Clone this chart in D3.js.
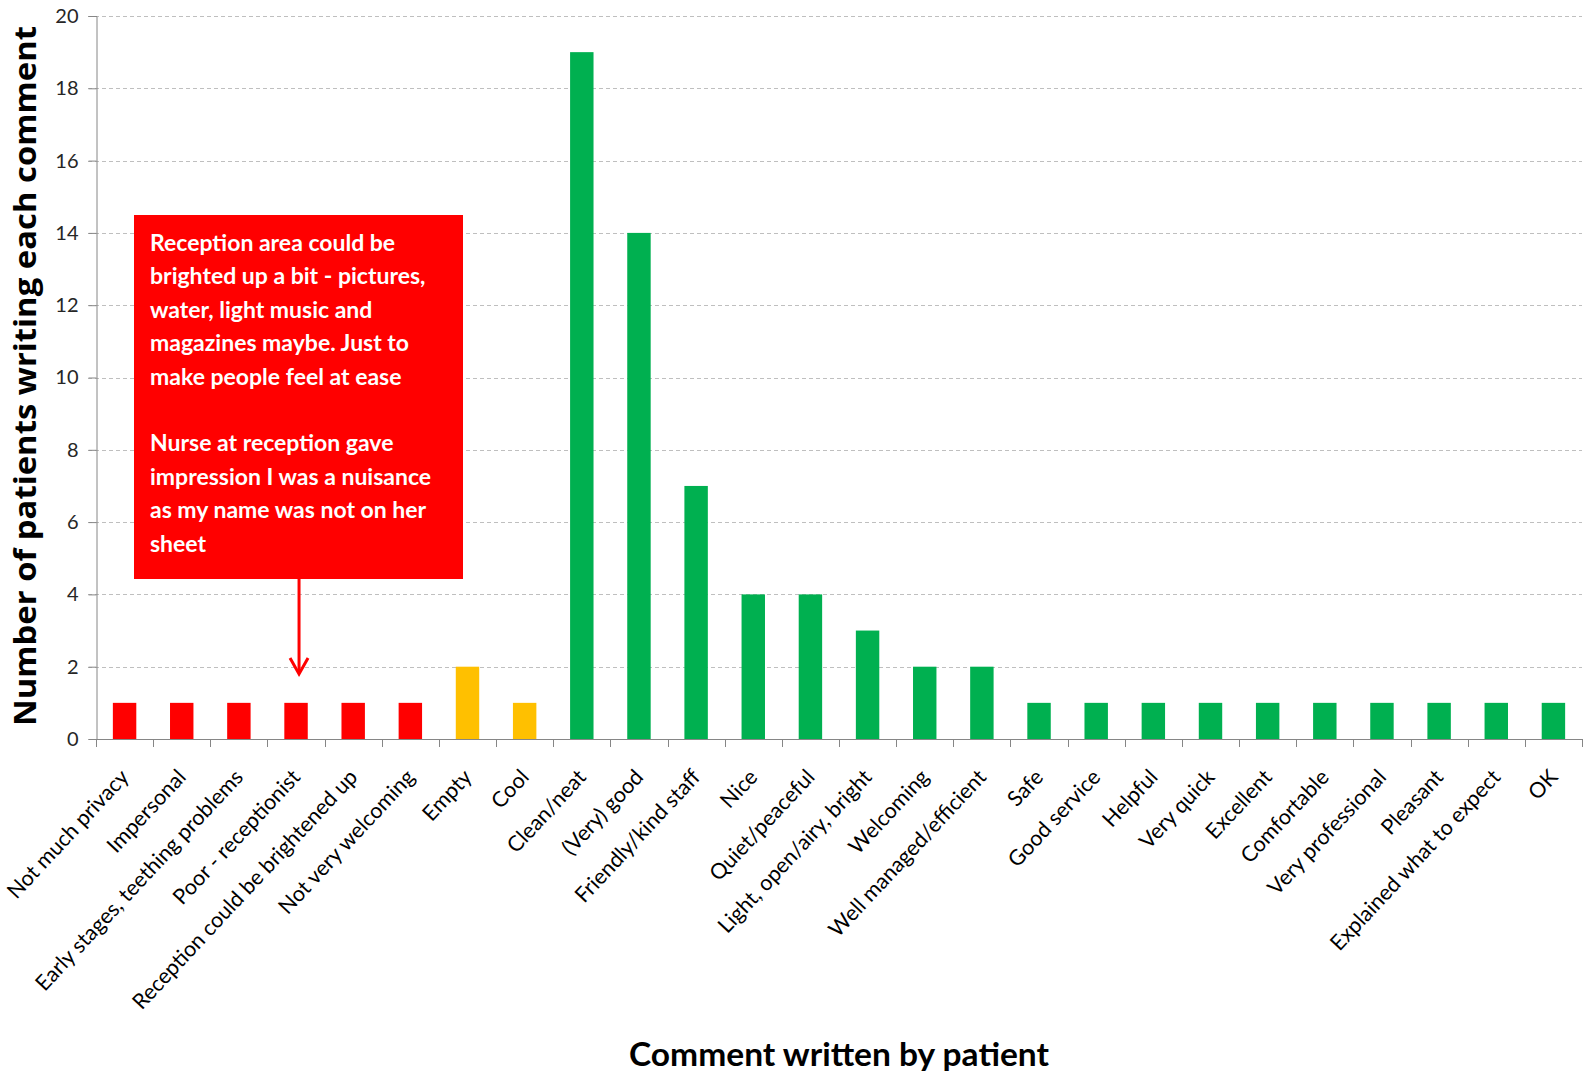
<!DOCTYPE html>
<html>
<head>
<meta charset="utf-8">
<script src="https://cdn.jsdelivr.net/npm/d3@7"></script>
<style>
  html, body { margin: 0; padding: 0; background: #fff; }
  svg { display: block; }
</style>
</head>
<body>
<svg id="chart" width="1585" height="1076"></svg>
<script>
const categories = [
  "Not much privacy", "Impersonal", "Early stages, teething problems", "Poor - receptionist",
  "Reception could be brightened up", "Not very welcoming", "Empty", "Cool",
  "Clean/neat", "(Very) good", "Friendly/kind staff", "Nice", "Quiet/peaceful",
  "Light, open/airy, bright", "Welcoming", "Well managed/efficient", "Safe", "Good service",
  "Helpful", "Very quick", "Excellent", "Comfortable", "Very professional", "Pleasant",
  "Explained what to expect", "OK"
];
const values = [1, 1, 1, 1, 1, 1, 2, 1, 19, 14, 7, 4, 4, 3, 2, 2, 1, 1, 1, 1, 1, 1, 1, 1, 1, 1];
const sentiment = ["neg","neg","neg","neg","neg","neg","neu","neu",
  "pos","pos","pos","pos","pos","pos","pos","pos","pos","pos","pos","pos","pos","pos","pos","pos","pos","pos"];
const yTicks = [0, 2, 4, 6, 8, 10, 12, 14, 16, 18, 20];
const annotationLines = [
  "Reception area could be",
  "brighted up a bit - pictures,",
  "water, light music and",
  "magazines maybe. Just to",
  "make people feel at ease",
  "",
  "Nurse at reception gave",
  "impression I was a nuisance",
  "as my name was not on her",
  "sheet"
];
const annotatedCategory = "Poor - receptionist";
const yTitle = "Number of patients writing each comment";
const xTitle = "Comment written by patient";

const colors = { neg: "#FF0000", neu: "#FFC000", pos: "#00B050" };
const FONT = "Lato, 'Open Sans', sans-serif";

const svg = d3.select("#chart");
const m = { left: 96, right: 1582, top: 16, bottom: 739 };

const x = d3.scaleBand().domain(categories).range([m.left, m.right]).paddingInner(0.59).paddingOuter(0.295);
const y = d3.scaleLinear().domain([0, 20]).range([m.bottom, m.top]);

// gridlines
svg.append("g").selectAll("line").data(yTicks.filter(d => d > 0)).join("line")
  .attr("x1", m.left - 8).attr("x2", m.right)
  .attr("y1", d => Math.round(y(d)) + 0.5).attr("y2", d => Math.round(y(d)) + 0.5)
  .attr("stroke", "#bfbfbf").attr("stroke-width", 1).attr("stroke-dasharray", "4,3");

// y axis
const yAxis = svg.append("g").attr("transform", `translate(${m.left + 0.5},0)`)
  .call(d3.axisLeft(y).tickValues(yTicks).tickSize(8).tickPadding(10));
yAxis.select(".domain").attr("stroke", "#868686");
yAxis.selectAll(".tick line").attr("stroke", "#868686");
yAxis.selectAll(".tick text").attr("font-family", FONT).attr("font-size", 20).attr("fill", "#262626");

// bars
svg.append("g").selectAll("rect").data(categories).join("rect")
  .attr("x", d => x(d)).attr("width", x.bandwidth())
  .attr("y", (d, i) => y(values[i])).attr("height", (d, i) => y(0) - y(values[i]))
  .attr("fill", (d, i) => colors[sentiment[i]]);

// x axis: ticks at band boundaries
const boundaries = d3.range(categories.length + 1).map(i => m.left + i * (m.right - m.left) / categories.length);
svg.append("line").attr("x1", m.left).attr("x2", m.right)
  .attr("y1", m.bottom + 0.5).attr("y2", m.bottom + 0.5).attr("stroke", "#868686");
svg.append("g").selectAll("line").data(boundaries).join("line")
  .attr("x1", d => Math.round(d) + 0.5).attr("x2", d => Math.round(d) + 0.5)
  .attr("y1", m.bottom).attr("y2", m.bottom + 8).attr("stroke", "#868686");

// x labels
svg.append("g").selectAll("text").data(categories).join("text")
  .attr("transform", d => `translate(${x(d) + x.bandwidth() / 2},${m.bottom + 34}) rotate(-47)`)
  .attr("text-anchor", "end").attr("dy", "0.35em")
  .attr("font-family", FONT).attr("font-size", 21.5).attr("fill", "#000")
  .text(d => d);

// axis titles
svg.append("text")
  .attr("transform", `translate(36,376) rotate(-90)`)
  .attr("text-anchor", "middle").attr("font-family", "'Open Sans', sans-serif").attr("font-weight", "bold")
  .attr("font-size", 31).attr("fill", "#000")
  .attr("textLength", 700).attr("lengthAdjust", "spacingAndGlyphs")
  .text(yTitle);
svg.append("text")
  .attr("x", 839).attr("y", 1066).attr("text-anchor", "middle")
  .attr("font-family", FONT).attr("font-weight", "bold").attr("font-size", 33).attr("fill", "#000")
  .attr("textLength", 420).attr("lengthAdjust", "spacingAndGlyphs")
  .text(xTitle);

// annotation
const ann = svg.append("g");
const boxX = 134, boxY = 215, boxW = 329, boxH = 364;
ann.append("rect").attr("x", boxX).attr("y", boxY).attr("width", boxW).attr("height", boxH).attr("fill", "#FF0000");
ann.selectAll("text").data(annotationLines).join("text")
  .attr("x", boxX + 16).attr("y", (d, i) => boxY + 36 + i * 33.4)
  .attr("font-family", FONT).attr("font-weight", "bold").attr("font-size", 23).attr("fill", "#fff")
  .text(d => d);
const ax = x(annotatedCategory) + x.bandwidth() / 2 + 3;
const tipY = y(1.8);
ann.append("line").attr("x1", ax).attr("x2", ax).attr("y1", boxY + boxH).attr("y2", tipY - 2)
  .attr("stroke", "#FF0000").attr("stroke-width", 3);
ann.append("path").attr("d", `M${ax - 9},${tipY - 16} L${ax},${tipY} L${ax + 9},${tipY - 16}`)
  .attr("fill", "none").attr("stroke", "#FF0000").attr("stroke-width", 3);
</script>
</body>
</html>
